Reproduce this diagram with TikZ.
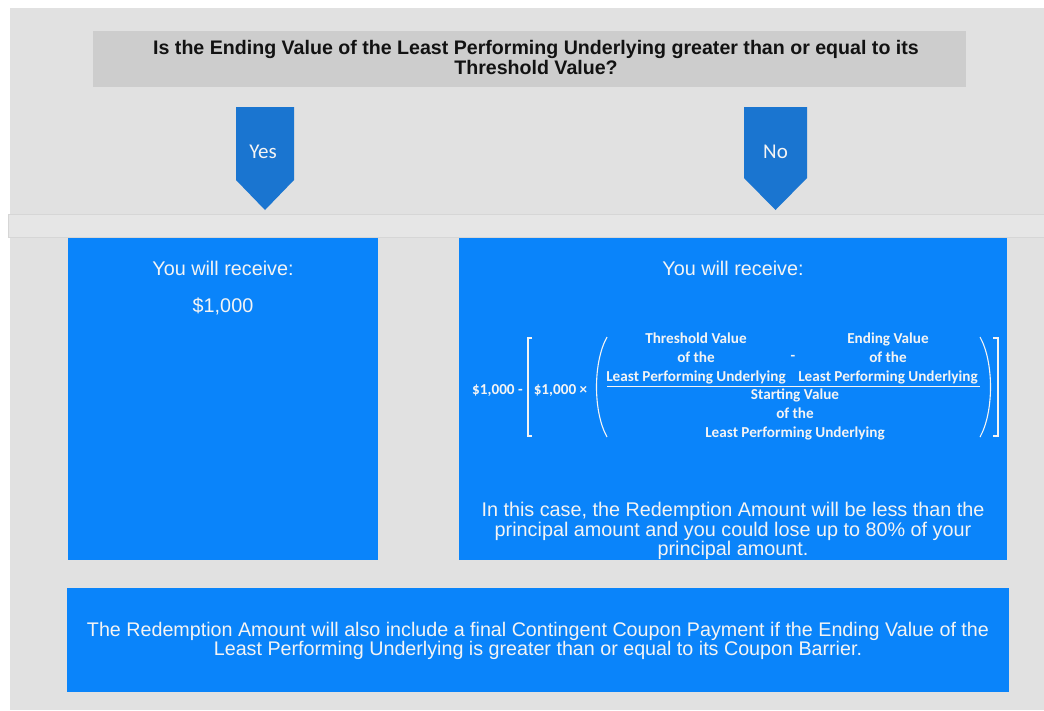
\documentclass[tikz,border=0pt]{standalone}
\usepackage{fontspec}
\setmainfont{Liberation Sans}
\newfontfamily\calfont{Carlito}
\definecolor{pagebg}{HTML}{E1E1E1}
\definecolor{qgray}{HTML}{CDCDCD}
\definecolor{bandgray}{HTML}{E6E6E6}
\definecolor{bandline}{HTML}{D6D6D6}
\definecolor{arrowblue}{HTML}{1A75D0}
\definecolor{boxblue}{HTML}{0A84FA}
\definecolor{txtwhite}{HTML}{F4F4F4}
\begin{document}
\begin{tikzpicture}[x=1pt,y=-1pt,
  panel/.style={fill=boxblue,draw=none},
  wtext/.style={text=txtwhite,inner sep=0pt,align=center},
  ftext/.style={text=txtwhite,inner sep=0pt,align=center,font=\calfont\bfseries\fontsize{15.2}{19}\selectfont},
  fline/.style={draw=txtwhite,line width=1.1pt}]
\useasboundingbox (0,0) rectangle (1044,710);
\fill[white] (0,0) rectangle (1044,710);
\fill[pagebg] (10,8) rectangle (1044,710);
% question
\fill[qgray] (93,31) rectangle (966,87);
\node[inner sep=0pt,align=center,text=black!93,font=\bfseries\fontsize{19.6}{20}\selectfont] (q) at (536,57)
  {Is the Ending Value of the Least Performing Underlying greater than or equal to its\\Threshold Value?};
% band
\filldraw[fill=bandgray,draw=bandline,line width=0.6pt] (8,214) rectangle (1044,237);
% arrows
\fill[arrowblue] (236,107) -- (294,107) -- (294,180) -- (265,210) -- (236,180) -- cycle;
\node[wtext,font=\calfont\fontsize{21}{22}\selectfont] (yes) at (263,152) {Yes};
\fill[arrowblue] (744,107) -- (807,107) -- (807,178) -- (775.5,210) -- (744,178) -- cycle;
\node[wtext,font=\calfont\fontsize{21}{22}\selectfont] (no) at (775.5,152) {No};
% boxes
\fill[panel] (68,238) rectangle (378,560);
\fill[panel] (459,238) rectangle (1007,560);
\fill[panel] (67,588) rectangle (1009,692);
% left box text
\node[wtext,font=\fontsize{19.8}{22}\selectfont] (lrec) at (223,268) {You will receive:};
\node[wtext,font=\fontsize{19.8}{22}\selectfont] (lamt) at (223,306) {\$1,000};
% right box text
\node[wtext,font=\fontsize{19.8}{22}\selectfont] (rrec) at (733,268) {You will receive:};
\node[ftext] (m1) at (497.5,391) {\$1,000 -};
\node[ftext] (m2) at (560.5,391) {\$1,000 ×};
\node[ftext] (num1) at (696,358) {Threshold Value\\of the\\Least Performing Underlying};
\node[ftext] (minus) at (793,358) {-};
\node[ftext] (num2) at (888,358) {Ending Value\\of the\\Least Performing Underlying};
\node[ftext] (den) at (795,414) {Starting Value\\of the\\Least Performing Underlying};
\draw[fline] (607,386.7) -- (980,386.7);
\draw[fline] (532,338) -- (528,338) -- (528,436) -- (532,436);
\draw[fline] (993,338) -- (998,338) -- (998,436) -- (993,436);
\draw[fline] (607,337) .. controls (593,362) and (593,412) .. (607,437);
\draw[fline] (980,337) .. controls (994,362) and (994,412) .. (980,437);
\node[wtext,font=\fontsize{19.8}{19.5}\selectfont] (rpar) at (733,531)
  {In this case, the Redemption Amount will be less than the\\principal amount and you could lose up to 80\% of your\\principal amount.};
% bottom text
\node[wtext,font=\fontsize{19.7}{19}\selectfont] (bpar) at (538,640.5)
  {The Redemption Amount will also include a final Contingent Coupon Payment if the Ending Value of the\\Least Performing Underlying is greater than or equal to its Coupon Barrier.};
\end{tikzpicture}
\end{document}
